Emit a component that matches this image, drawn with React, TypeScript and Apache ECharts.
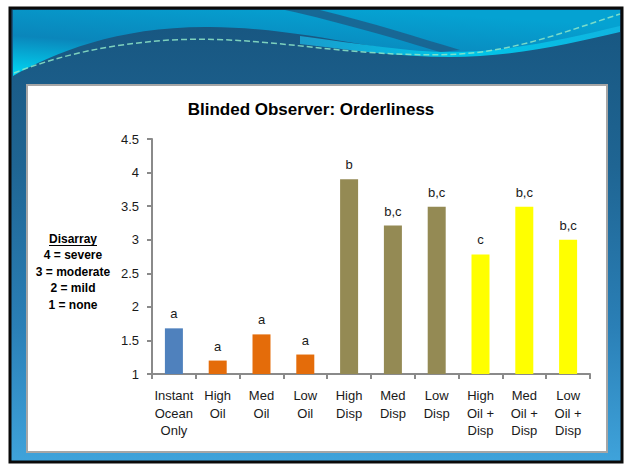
import React, { useEffect, useRef } from "react";
import * as echarts from "echarts";

const categories = [
  "Instant\nOcean\nOnly",
  "High\nOil",
  "Med\nOil",
  "Low\nOil",
  "High\nDisp",
  "Med\nDisp",
  "Low\nDisp",
  "High\nOil +\nDisp",
  "Med\nOil +\nDisp",
  "Low\nOil +\nDisp",
];
const values = [1.68, 1.2, 1.59, 1.29, 3.9, 3.21, 3.49, 2.78, 3.49, 3.0];
const letters = ["a", "a", "a", "a", "b", "b,c", "b,c", "c", "b,c", "b,c"];
const barColors = [
  "#4f81bd",
  "#e46c0a",
  "#e46c0a",
  "#e46c0a",
  "#948a54",
  "#948a54",
  "#948a54",
  "#ffff00",
  "#ffff00",
  "#ffff00",
];
const legendLines = ["4 = severe", "3 = moderate", "2 = mild", "1 = none"];
const titleText = "Blinded Observer: Orderliness";

const FONT = "'Liberation Sans', Arial, sans-serif";

echarts.graphic.registerShape(
  "bannerTop",
  echarts.graphic.extendPath(
    "M13,10 L620,10 L620,28 C570,42 510,54 450,54 C380,54 310,28 210,27 C120,26 55,52 13,76 Z",
    {}
  )
);
echarts.graphic.registerShape(
  "bannerStreak",
  echarts.graphic.extendPath(
    "M285,10 L320,10 C370,22 420,38 460,50 L440,52 C400,40 340,22 285,10 Z",
    {}
  )
);
echarts.graphic.registerShape(
  "bannerCyan",
  echarts.graphic.extendPath(
    "M300,36 C360,44 410,52 450,52 C510,52 570,38 620,26 L620,32 C570,44 510,57 450,57 C400,57 350,50 300,44 Z",
    {}
  )
);
echarts.graphic.registerShape(
  "sparkle",
  echarts.graphic.extendPath(
    "M14,73 C60,55 110,44 170,40 C230,37 280,44 330,49 C380,54 420,56 460,54 C520,50 570,30 620,14",
    {}
  )
);

export default function App() {
  const ref = useRef<HTMLDivElement>(null);
  useEffect(() => {
    if (!ref.current) return;
    const chart = echarts.init(ref.current, null, { renderer: "svg" });
    const LG = echarts.graphic.LinearGradient;
    const option: any = {
      animation: false,
      grid: { left: 152, right: 39, top: 139, bottom: 90, containLabel: false },
      graphic: [
        {
          type: "rect",
          z: -100,
          shape: { x: 10, y: 8, width: 612, height: 454 },
          style: {
            fill: new LG(0, 0, 0, 1, [
              { offset: 0, color: "#17557f" },
              { offset: 0.35, color: "#1f6593" },
              { offset: 0.7, color: "#2a7fb6" },
              { offset: 1, color: "#3fa3db" },
            ]),
            stroke: "#0a0a0a",
            lineWidth: 3,
          },
        },
        {
          type: "bannerTop",
          z: -99,
          style: {
            fill: new LG(0, 1, 0.6, 0, [
              { offset: 0, color: "#00d8f4" },
              { offset: 0.45, color: "#0a86bb" },
              { offset: 1, color: "#05a2d2" },
            ]),
          },
        },
        {
          type: "bannerStreak",
          z: -98,
          style: { fill: "#1b5f8c", opacity: 0.85 },
        },
        {
          type: "bannerCyan",
          z: -98,
          style: {
            fill: new LG(0, 0, 1, 0, [
              { offset: 0, color: "#1a9ccc" },
              { offset: 0.5, color: "#00c6e8" },
              { offset: 1, color: "#10b4e0" },
            ]),
          },
        },
        {
          type: "sparkle",
          z: -97,
          style: {
            fill: null,
            stroke: "#8fe6c8",
            lineWidth: 1.5,
            lineDash: [6, 3],
            opacity: 0.85,
          },
        },
        {
          type: "rect",
          z: -90,
          shape: { x: 27, y: 85, width: 580, height: 367 },
          style: { fill: "#ffffff", stroke: "#a6a6a6", lineWidth: 2 },
        },
        {
          type: "text",
          x: 311,
          y: 109,
          style: {
            text: titleText,
            font: `bold 17px ${FONT}`,
            fill: "#000000",
            align: "center",
            verticalAlign: "middle",
          },
        },
        {
          type: "text",
          x: 73,
          y: 239,
          style: {
            text: "Disarray",
            font: `bold 12px ${FONT}`,
            fill: "#000000",
            align: "center",
            verticalAlign: "middle",
          },
        },
        {
          type: "line",
          shape: { x1: 49, y1: 245.5, x2: 97, y2: 245.5 },
          style: { stroke: "#000000", lineWidth: 1 },
        },
        ...legendLines.map((t, i) => ({
          type: "text",
          x: 73,
          y: 255 + i * 16.7,
          style: {
            text: t,
            font: `bold 12px ${FONT}`,
            fill: "#000000",
            align: "center",
            verticalAlign: "middle",
          },
        })),
      ],
      xAxis: {
        type: "category",
        data: categories,
        axisLine: { show: true, lineStyle: { color: "#8a8a8a", width: 2 } },
        axisTick: {
          show: true,
          alignWithLabel: false,
          length: 5,
          lineStyle: { color: "#8a8a8a", width: 2 },
        },
        axisLabel: {
          interval: 0,
          margin: 13,
          fontSize: 13,
          lineHeight: 17.5,
          color: "#1a1a1a",
          fontFamily: FONT,
        },
        splitLine: { show: false },
      },
      yAxis: {
        type: "value",
        min: 1,
        max: 4.5,
        interval: 0.5,
        axisLine: { show: true, lineStyle: { color: "#8a8a8a", width: 2 } },
        axisTick: {
          show: true,
          length: 5,
          lineStyle: { color: "#8a8a8a", width: 2 },
        },
        axisLabel: {
          margin: 13,
          fontSize: 13,
          color: "#1a1a1a",
          fontFamily: FONT,
        },
        splitLine: { show: false },
      },
      series: [
        {
          type: "bar",
          barWidth: 18,
          data: values.map((v, i) => ({
            value: v,
            itemStyle: { color: barColors[i] },
          })),
          label: {
            show: true,
            position: "top",
            distance: 8,
            fontSize: 13,
            color: "#1a1a1a",
            fontFamily: FONT,
            formatter: (p: any) => letters[p.dataIndex],
          },
        },
      ],
    };
    chart.setOption(option);
    return () => chart.dispose();
  }, []);
  return (
    <div
      ref={ref}
      style={{ position: "absolute", left: 0, top: 0, width: 629, height: 464 }}
    />
  );
}
